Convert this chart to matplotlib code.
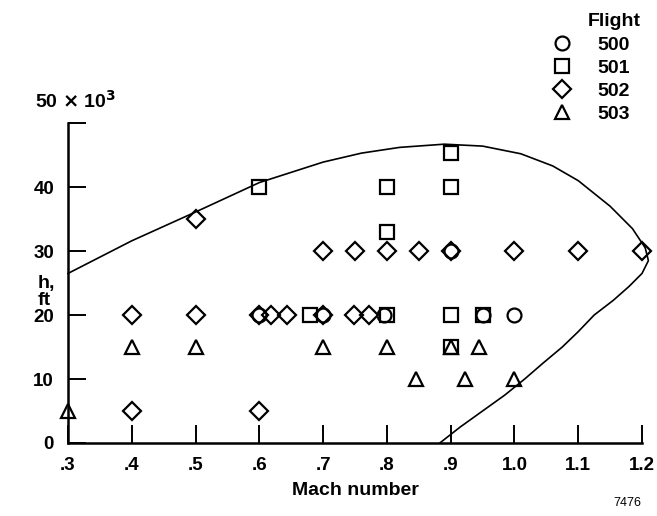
import matplotlib
matplotlib.use('Agg')
import matplotlib.pyplot as plt
import numpy as np

plt.rcParams['font.family'] = ['Liberation Sans', 'DejaVu Sans']
plt.rcParams['font.weight'] = 'bold'

# flight test points (Mach, altitude in thousands of ft)
mach_500 = [0.6, 0.7, 0.795, 0.9, 0.95, 1.0]
h_500 = [20, 20, 20, 30, 20, 20]

mach_501 = [0.6, 0.9, 0.8, 0.9, 0.8, 0.68, 0.8, 0.9, 0.9, 0.95]
h_501 = [40, 45.3, 40, 40, 33, 20, 20, 20, 15, 20]

mach_502 = [0.5, 0.4, 0.5, 0.6, 0.618, 0.644, 0.7, 0.748, 0.772,
            0.7, 0.75, 0.8, 0.85, 0.9, 1.0, 1.1, 1.2, 0.4, 0.6]
h_502 = [35, 20, 20, 20, 20, 20, 20, 20, 20,
         30, 30, 30, 30, 30, 30, 30, 30, 5, 5]

mach_503 = [0.3, 0.4, 0.5, 0.7, 0.8, 0.9, 0.945, 0.845, 0.923, 1.0]
h_503 = [5, 15, 15, 15, 15, 15, 15, 10, 10, 10]

# flight envelope boundary
env_mach = [0.3, 0.4, 0.5, 0.6, 0.7, 0.76, 0.82, 0.89, 0.95, 1.01, 1.06, 1.1,
            1.15, 1.185, 1.205, 1.21, 1.2, 1.18, 1.155, 1.125, 1.1, 1.075,
            1.045, 1.016, 0.985, 0.95, 0.915, 0.883]
env_h = [26.5, 31.6, 36.1, 40.7, 43.9, 45.3, 46.2, 46.7, 46.4, 45.2, 43.3, 41.0,
         37.0, 33.5, 30.5, 28.5, 26.5, 24.5, 22.3, 20.0, 17.4, 15.0,
         12.5, 10.0, 7.5, 5.0, 2.5, 0.0]

fig = plt.figure(figsize=(6.57, 5.16), dpi=100)
ax = fig.add_axes([0.1035, 0.1415, 0.8737, 0.620])

ax.plot(env_mach, env_h, color='black', lw=1.2, clip_on=False)

style = dict(linestyle='none', markerfacecolor='none', markeredgecolor='black',
             markeredgewidth=1.6, clip_on=False, zorder=3)
ax.plot(mach_500, h_500, marker='o', markersize=10, label='500', **style)
ax.plot(mach_501, h_501, marker='s', markersize=9.5, label='501', **style)
ax.plot(mach_502, h_502, marker='D', markersize=9, label='502', **style)
ax.plot(mach_503, h_503, marker='^', markersize=10, label='503', **style)

ax.set_xlim(0.3, 1.2)
ax.set_ylim(0, 50)
ax.set_xticks(np.arange(0.3, 1.21, 0.1))
ax.set_xticklabels(['.3', '.4', '.5', '.6', '.7', '.8', '.9', '1.0', '1.1', '1.2'])
ax.set_yticks([0, 10, 20, 30, 40, 50])
ax.set_yticklabels(['0', '10', '20', '30', '40', ''])
ax.tick_params(direction='in', length=13, width=1.4, labelsize=13.5, color='black')
ax.tick_params(axis='x', pad=10)
ax.tick_params(axis='y', pad=10)

for side in ['top', 'right']:
    ax.spines[side].set_visible(False)
for side in ['left', 'bottom']:
    ax.spines[side].set_linewidth(1.8)

ax.set_xlabel('Mach number', fontsize=14, fontweight='bold', labelpad=6)
fig.text(0.058, 0.434, 'h,\nft', fontsize=14, fontweight='bold', ha='left', va='center',
         linespacing=1.0)
fig.text(0.053, 0.791, r'50 $\times$ 10$^3$', fontsize=14, fontweight='bold',
         ha='left', va='baseline')
fig.text(0.933, 0.025, '7476', fontsize=9, fontweight='normal', ha='left', va='center')

# legend: markers and flight numbers, heading placed over the numbers
ax.legend(frameon=False, loc='upper left',
          bbox_to_anchor=(0.840, 0.930), bbox_transform=fig.transFigure,
          fontsize=14, labelspacing=0.28,
          handletextpad=1.35, handlelength=1.0, borderpad=0, borderaxespad=0)
fig.text(0.9346, 0.958, 'Flight', fontsize=14, fontweight='bold', ha='center', va='center')

fig.savefig('out.png', dpi=100)
